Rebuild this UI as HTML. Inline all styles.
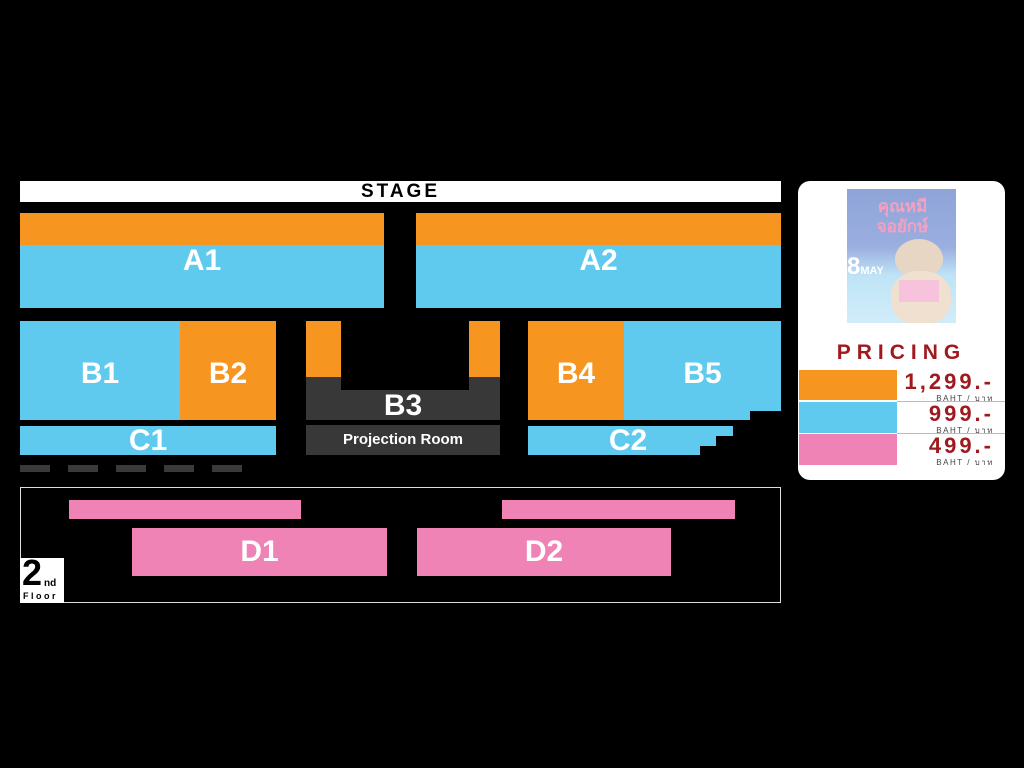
<!DOCTYPE html>
<html><head><meta charset="utf-8"><style>
body{margin:0;background:#000;width:1024px;height:768px;position:relative;overflow:hidden;font-family:"Liberation Sans",Arial,sans-serif}
div{position:absolute;box-sizing:border-box}
.o{background:#f6951f}.b{background:#5fcaed}.p{background:#f083b5}.d{background:#383838}
.l{color:#fff;font-weight:bold;font-size:30px;display:flex;align-items:center;justify-content:center}
.dash{background:#3a3a3a;top:465px;width:30px;height:7px}
.pr{right:11px;color:#a0191e;font-weight:bold;font-size:22px;letter-spacing:3px;text-align:right;line-height:24px}
.bt{right:11px;font-size:8px;letter-spacing:1.5px;color:#444}
</style></head><body>
<div style="left:20px;top:181px;width:761px;height:21px;background:#fff;font-weight:bold;font-size:19px;letter-spacing:3px;text-align:center;line-height:21px">STAGE</div>
<div class="o" style="left:20px;top:213px;width:364px;height:32px"></div>
<div class="b" style="left:20px;top:245px;width:364px;height:63px"></div>
<div class="l" style="left:20px;top:213px;width:364px;height:95px">A1</div>
<div class="o" style="left:416px;top:213px;width:365px;height:32px"></div>
<div class="b" style="left:416px;top:245px;width:365px;height:63px"></div>
<div class="l" style="left:416px;top:213px;width:365px;height:95px">A2</div>

<div class="b l" style="left:20px;top:321px;width:160px;height:99px;padding-top:6px">B1</div>
<div class="o l" style="left:180px;top:321px;width:96px;height:99px;padding-top:6px">B2</div>
<div class="b l" style="left:20px;top:426px;width:256px;height:29px">C1</div>

<div class="o" style="left:306px;top:321px;width:194px;height:56px"></div>
<div class="d l" style="left:306px;top:377px;width:194px;height:43px;padding-top:14px">B3</div>
<div style="left:341px;top:321px;width:128px;height:69px;background:#000"></div>
<div class="d" style="left:306px;top:425px;width:194px;height:30px;color:#fff;font-weight:bold;font-size:15px;text-align:center;line-height:30px">Projection Room</div>

<div class="o l" style="left:528px;top:321px;width:96px;height:99px;padding-top:6px">B4</div>
<div class="b l" style="left:624px;top:321px;width:157px;height:99px;padding-top:6px">B5</div>
<div style="left:750px;top:411px;width:31px;height:9px;background:#000"></div>
<div class="b" style="left:528px;top:426px;width:205px;height:10px"></div>
<div class="b" style="left:528px;top:436px;width:188px;height:10px"></div>
<div class="b" style="left:528px;top:446px;width:172px;height:9px"></div>
<div class="l" style="left:528px;top:426px;width:200px;height:29px">C2</div>

<div class="dash" style="left:20px"></div><div class="dash" style="left:68px"></div><div class="dash" style="left:116px"></div><div class="dash" style="left:164px"></div><div class="dash" style="left:212px"></div>

<div style="left:20px;top:487px;width:761px;height:116px;border:1px solid #ddd"></div>
<div class="p" style="left:69px;top:500px;width:232px;height:19px"></div>
<div class="p" style="left:502px;top:500px;width:233px;height:19px"></div>
<div class="p l" style="left:132px;top:528px;width:255px;height:48px">D1</div>
<div class="p l" style="left:417px;top:528px;width:254px;height:48px">D2</div>
<div style="left:20px;top:558px;width:44px;height:45px;background:#fff;color:#000;font-weight:bold">
<div style="left:2px;top:-5px;font-size:36px;letter-spacing:-1px;line-height:40px">2</div>
<div style="left:24px;top:21px;font-size:10px;line-height:10px">nd</div>
<div style="left:3px;top:33px;font-size:9px;letter-spacing:2.5px;line-height:10px">Floor</div></div>

<div style="left:798px;top:181px;width:207px;height:299px;background:#fff;border-radius:12px;overflow:hidden">
<div style="left:49px;top:8px;width:109px;height:145px;background:linear-gradient(#8ea4d8 0%,#9aaee0 40%,#bfe4f6 60%,#d6eefa 100%)">
<div style="left:8px;top:8px;width:95px;font-size:17px;color:#f6a0c0;font-weight:bold;text-align:center;font-family:'Liberation Sans','Noto Sans CJK SC',sans-serif;line-height:20px">คุณหมี<br>จอยักษ์</div>
<div style="left:48px;top:50px;width:48px;height:40px;border-radius:50%;background:#e8d6c4"></div>
<div style="left:44px;top:82px;width:60px;height:54px;border-radius:45%;background:#efe0d0"></div>
<div style="left:52px;top:91px;width:40px;height:22px;background:#f7c2dc"></div>
<div style="left:0px;top:64px;width:48px;font-size:24px;color:#fff;font-weight:bold">8<span style="font-size:11px">MAY</span></div>
<div style="left:0;top:134px;width:109px;height:11px;background:#fff"></div>
</div>
<div style="left:0;top:160px;width:207px;text-align:center;color:#a0191e;font-weight:bold;font-size:21px;letter-spacing:6px">PRICING</div>
<div class="o" style="left:1px;top:189px;width:98px;height:30px"></div>
<div class="b" style="left:1px;top:221px;width:98px;height:31px"></div>
<div class="p" style="left:1px;top:253px;width:98px;height:31px"></div>
<div style="left:99px;top:220px;width:108px;height:1px;background:#bbb"></div>
<div style="left:99px;top:252px;width:108px;height:1px;background:#bbb"></div>
<div class="pr" style="top:189px">1,299.-</div><div class="bt" style="top:211px">BAHT / บาท</div>
<div class="pr" style="top:221px">999.-</div><div class="bt" style="top:243px">BAHT / บาท</div>
<div class="pr" style="top:253px">499.-</div><div class="bt" style="top:275px">BAHT / บาท</div>
</div>
</body></html>
